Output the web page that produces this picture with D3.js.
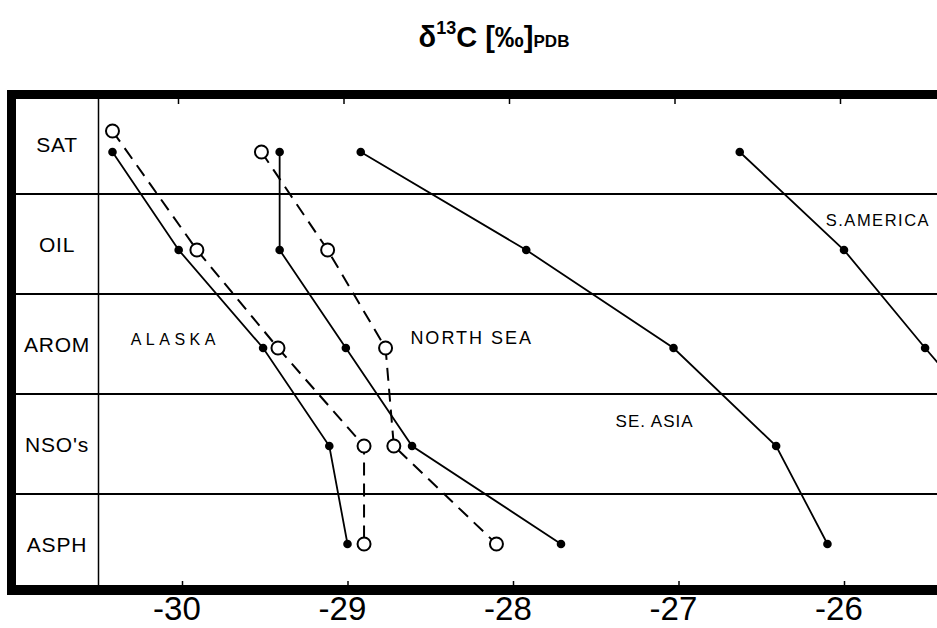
<!DOCTYPE html>
<html>
<head>
<meta charset="utf-8">
<script src="https://cdn.jsdelivr.net/npm/d3@7"></script>
<style>
  body { margin: 0; background: #fff; }
  svg { display: block; font-family: "Liberation Sans", Arial, sans-serif; }
</style>
</head>
<body>
<div id="chartArea"></div>
<script>
// Data
const rows = ["SAT", "OIL", "AROM", "NSO's", "ASPH"];
const tickValues = [-30, -29, -28, -27, -26];

const alaskaSolid = [-30.42, -30.02, -29.51, -29.11, -29.00];
const alaskaOpen = [-30.42, -29.91, -29.42, -28.90, -28.90];
const northSeaSolid = [-29.41, -29.41, -29.01, -28.61, -27.71];
const northSeaOpen = [-29.52, -29.12, -28.77, -28.72, -28.10];
const seAsia = [-28.92, -27.92, -27.03, -26.41, -26.10];
const sAmerica = [-26.63, -26.00, -25.51, -25.00];

const regionNames = ["ALASKA", "NORTH SEA", "S.AMERICA", "SE. ASIA"];
const regionX = [-30.31, -28.62, -26.11, -27.38];
const regionRows = ["AROM", "AROM", "OIL", "NSO's"];

// Size
const width = 937,
    height = 628,
    frame = { left: 7, top: 90, bottom: 595, border: 9, divider: 98.5 };

const svg = d3.select("#chartArea")
    .append("svg")
    .attr("width", width)
    .attr("height", height);

// Scales
const x = d3.scaleLinear()
    .domain([-30, -26])
    .range([182, 844]);

const yBand = d3.scaleBand()
    .domain(rows)
    .range([94, 594]);

const yPt = d3.scalePoint()
    .domain(rows)
    .range([152, 544]);

// Title
const title = svg.append("text")
    .attr("x", 494)
    .attr("y", 47)
    .attr("text-anchor", "middle")
    .attr("font-weight", "bold")
    .attr("font-size", 29);
title.append("tspan").text("δ");
title.append("tspan").attr("dy", -13).attr("font-size", 18).text("13");
title.append("tspan").attr("dy", 13).text("C [‰]");
title.append("tspan").attr("font-size", 17).text("PDB");

// Frame
svg.append("rect")
    .attr("x", frame.left).attr("y", frame.top)
    .attr("width", frame.border).attr("height", frame.bottom - frame.top)
    .attr("fill", "#000");
svg.append("rect")
    .attr("x", frame.left).attr("y", frame.top)
    .attr("width", width - frame.left).attr("height", frame.border)
    .attr("fill", "#000");
svg.append("rect")
    .attr("x", frame.left).attr("y", frame.bottom - 10)
    .attr("width", width - frame.left).attr("height", 10)
    .attr("fill", "#000");
svg.append("line")
    .attr("x1", frame.divider).attr("x2", frame.divider)
    .attr("y1", frame.top + frame.border).attr("y2", frame.bottom - 10)
    .attr("stroke", "#000").attr("stroke-width", 1.5);

// Row lines and labels
svg.append("g")
    .selectAll("line")
    .data(rows.slice(1))
    .join("line")
    .attr("x1", frame.left + frame.border)
    .attr("x2", width)
    .attr("y1", d => yBand(d))
    .attr("y2", d => yBand(d))
    .attr("stroke", "#000")
    .attr("stroke-width", 2.2);

svg.append("g")
    .selectAll("text")
    .data(rows)
    .join("text")
    .attr("x", 57)
    .attr("y", d => yBand(d) + yBand.bandwidth() / 2 + 7.5)
    .attr("text-anchor", "middle")
    .attr("font-size", 21)
    .attr("letter-spacing", 0.8)
    .text(d => d);

// Axes
svg.append("g")
    .attr("transform", `translate(0,${frame.bottom - 10})`)
    .call(d3.axisBottom(x).tickValues(tickValues).tickSize(-4).tickPadding(12).tickFormat(d => String(d)))
    .call(g => g.select(".domain").remove())
    .call(g => g.selectAll("line").attr("stroke", "#000").attr("stroke-width", 1.5))
    .call(g => g.selectAll("text")
        .attr("font-family", "'Liberation Sans', Arial, sans-serif")
        .attr("font-size", 33)
        .attr("fill", "#000")
        .attr("dx", "-0.17em"));

svg.append("g")
    .attr("transform", `translate(-4,${frame.top + frame.border})`)
    .call(d3.axisTop(x).tickValues(tickValues).tickSize(-5).tickFormat(""))
    .call(g => g.select(".domain").remove())
    .call(g => g.selectAll("line").attr("stroke", "#000").attr("stroke-width", 1.5));

// Series
const series = [
    { name: "Alaska solid", values: alaskaSolid, open: false },
    { name: "Alaska open", values: alaskaOpen, open: true },
    { name: "North Sea solid", values: northSeaSolid, open: false },
    { name: "North Sea open", values: northSeaOpen, open: true },
    { name: "SE Asia", values: seAsia, open: false },
    { name: "S America", values: sAmerica, open: false }
];

// open SAT circle of Alaska sits above its filled twin
const markY = (s, i) => yPt(rows[i]) + (s.name === "Alaska open" && i === 0 ? -21 : 0);

const line = d3.line()
    .x(d => x(d.v))
    .y(d => d.y);

const points = s => s.values.map((v, i) => ({ v, y: markY(s, i) }));

svg.append("g")
    .selectAll("path")
    .data(series)
    .join("path")
    .attr("d", s => line(points(s)))
    .attr("fill", "none")
    .attr("stroke", "#000")
    .attr("stroke-width", s => s.open ? 2 : 1.8)
    .attr("stroke-dasharray", s => s.open ? "13,8" : null);

series.forEach(s => {
    svg.append("g")
        .selectAll("circle")
        .data(points(s))
        .join("circle")
        .attr("cx", d => x(d.v))
        .attr("cy", d => d.y)
        .attr("r", s.open ? 6.5 : 4.3)
        .attr("fill", s.open ? "#fff" : "#000")
        .attr("stroke", "#000")
        .attr("stroke-width", s.open ? 2 : 0);
});

// Region labels
const regionStyle = {
    "ALASKA": { size: 16, spacing: 4.5, dy: -3 },
    "NORTH SEA": { size: 18, spacing: 2, dy: -4 },
    "S.AMERICA": { size: 16.5, spacing: 1.5, dy: -24 },
    "SE. ASIA": { size: 17, spacing: 1, dy: -19 }
};

svg.append("g")
    .selectAll("text")
    .data(regionNames)
    .join("text")
    .attr("x", (d, i) => x(regionX[i]))
    .attr("y", (d, i) => yPt(regionRows[i]) + regionStyle[d].dy)
    .attr("font-size", d => regionStyle[d].size)
    .attr("letter-spacing", d => regionStyle[d].spacing)
    .text(d => d);
</script>
</body>
</html>
